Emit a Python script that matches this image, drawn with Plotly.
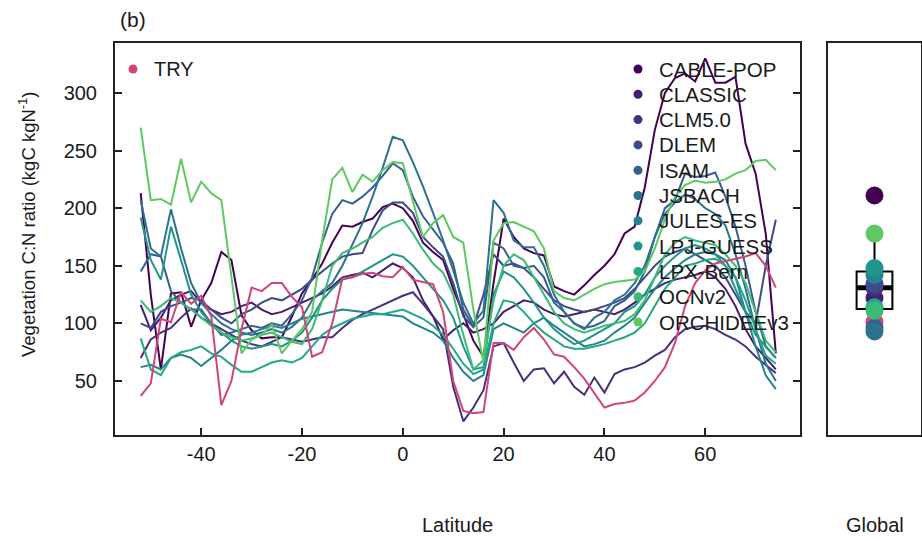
import numpy as np
import plotly.graph_objects as go

# ---------------- data ----------------
LAT = list(range(-52, 75, 2))  # 64 latitude bands

MODELS = ["CABLE-POP", "CLASSIC", "CLM5.0", "DLEM", "ISAM", "JSBACH",
          "JULES-ES", "LPJ-GUESS", "LPX-Bern", "OCNv2", "ORCHIDEEv3"]
COLORS = ["#440154", "#481C6E", "#46307E", "#3E4A89", "#355F8D", "#2C718E",
          "#26828E", "#1F968B", "#22A884", "#3BBB75", "#5EC962"]
TRY_NAME = "TRY"
TRY_COLOR = "#D1457A"

TRY = [37, 48, 104, 101, 127, 117, 124, 106, 29, 50, 95, 131, 128, 135, 135, 123, 114, 71, 75, 100,
       139, 140, 143, 144, 141, 140,
       149, 138, 136, 134, 110, 50, 24, 22, 23, 83, 83, 77, 88, 96, 86, 73, 71, 62, 52, 40,
       27, 30, 31, 33, 40, 50, 62, 83, 115, 135, 146, 152, 154, 156, 158, 161, 150, 131]

CABLE_POP = [213, 125, 60, 126, 127, 97, 120, 135, 162, 155, 107, 94, 87, 88, 88, 106, 126, 138, 152, 170,
             185, 184, 188, 191, 201, 204,
             200, 189, 170, 162, 155, 130, 108, 85, 71, 135, 191, 175, 165, 161, 159, 132, 128, 125, 133, 142,
             150, 160, 178, 184, 218, 268, 300, 313, 317, 310, 330, 309, 309, 314, 256, 230, 178, 74]

CLASSIC = [116, 94, 105, 120, 125, 128, 118, 112, 108, 110, 115, 118, 112, 108, 110, 114, 118, 122, 126, 132,
           140, 142, 144, 140, 146, 152,
           148, 140, 120, 106, 86, 94, 100, 92, 95, 100, 110, 115, 120, 118, 112, 108, 106, 108, 110, 112,
           110, 108, 112, 118, 125, 130, 135, 138, 140, 142, 145, 140, 130, 115, 95, 80, 70, 60]

CLM50 = [70, 86, 92, 96, 105, 113, 105, 100, 95, 90, 85, 82, 80, 84, 88, 86, 84, 86, 88, 88,
         96, 103, 108, 112, 116, 120,
         124, 127, 117, 106, 95, 45, 15, 27, 42, 80, 83, 66, 50, 60, 61, 48, 58, 45, 38, 53,
         40, 56, 60, 62, 66, 72, 77, 88, 95, 97, 98, 95, 90, 86, 80, 71, 64, 57]

DLEM = [100, 96, 110, 115, 118, 122, 120, 112, 105, 100, 108, 112, 118, 122, 120, 125, 130, 138, 145, 152,
        158, 160, 161, 181, 198, 205,
        205, 196, 175, 166, 158, 135, 106, 97, 125, 160, 150, 152, 148, 140, 130, 120, 115, 112, 110, 112,
        115, 118, 122, 130, 140, 150, 158, 162, 165, 160, 155, 150, 140, 125, 110, 100, 150, 190]

ISAM = [145, 160, 158, 128, 118, 112, 112, 100, 90, 92, 95, 98, 96, 100, 98, 108, 120, 140, 170, 195,
        207, 204, 210, 218, 228, 239,
        233, 210, 193, 182, 170, 152, 112, 97, 105, 170, 165, 150, 148, 150, 140, 118, 110, 100, 96, 98,
        102, 115, 120, 128, 145, 175, 200, 207, 230, 227, 228, 231, 210, 184, 150, 110, 80, 70]

JSBACH = [207, 165, 158, 199, 165, 135, 118, 108, 100, 95, 92, 90, 92, 95, 92, 97, 105, 120, 128, 135,
          150, 168, 187, 210, 235, 262,
          259, 240, 219, 196, 172, 146, 118, 100, 111, 207, 196, 172, 166, 166, 150, 125, 110, 100, 95, 105,
          110, 120, 125, 135, 150, 175, 195, 205, 212, 208, 200, 195, 185, 160, 130, 95, 65, 50]

JULES_ES = [62, 64, 60, 70, 73, 70, 63, 70, 77, 85, 90, 92, 95, 98, 96, 100, 104, 106, 108, 110,
            112, 111, 110, 109, 108, 107,
            106, 100, 96, 92, 85, 70, 58, 50, 55, 95, 100, 96, 92, 100, 105, 98, 92, 86, 80, 82,
            85, 92, 98, 105, 118, 130, 140, 148, 155, 160, 162, 160, 155, 140, 110, 80, 55, 43]

LPJ_GUESS = [192, 155, 138, 184, 155, 125, 110, 100, 92, 85, 80, 78, 80, 82, 80, 85, 92, 105, 120, 130,
             138, 140, 145, 150, 155, 160,
             158, 150, 140, 130, 120, 105, 80, 60, 62, 125, 145, 140, 130, 118, 105, 95, 88, 82, 85, 90,
             95, 100, 110, 115, 125, 140, 150, 158, 165, 168, 165, 160, 150, 130, 110, 90, 80, 70]

LPX_BERN = [87, 60, 55, 70, 75, 77, 80, 74, 71, 64, 58, 58, 62, 66, 68, 66, 70, 80, 90, 96,
            100, 104, 106, 108, 108, 110,
            112, 108, 104, 98, 90, 78, 65, 56, 60, 100, 120, 118, 110, 100, 92, 86, 80, 78, 78, 80,
            82, 85, 88, 92, 100, 115, 130, 140, 150, 152, 155, 156, 150, 140, 120, 95, 72, 65]

OCNV2 = [120, 110, 115, 122, 118, 112, 105, 98, 92, 88, 85, 87, 90, 92, 88, 84, 82, 95, 120, 150,
         161, 165, 170, 175, 183, 187,
         190, 178, 164, 152, 144, 125, 90, 60, 68, 120, 150, 160, 155, 140, 125, 110, 100, 95, 92, 95,
         98, 100, 102, 108, 120, 140, 160, 170, 175, 172, 170, 168, 160, 150, 135, 110, 85, 75]

ORCHIDEE = [270, 207, 208, 203, 243, 205, 223, 213, 207, 140, 74, 86, 90, 99, 74, 85, 95, 110, 172, 225,
            235, 214, 229, 223, 233, 240,
            239, 206, 175, 187, 194, 175, 170, 112, 66, 172, 187, 188, 184, 180, 165, 128, 122, 120, 125, 130,
            134, 136, 137, 138, 145, 165, 190, 210, 220, 224, 222, 223, 225, 230, 233, 241, 242, 233]

SERIES = [CABLE_POP, CLASSIC, CLM50, DLEM, ISAM, JSBACH, JULES_ES, LPJ_GUESS,
          LPX_BERN, OCNV2, ORCHIDEE]

# Global values (one per model) and TRY global
GLOBAL_MODELS = [211, 122, 131, 134, 96, 93, 142, 148, 114, 111, 178]
GLOBAL_TRY = 101

Y_TICKS = [50, 100, 150, 200, 250, 300]
X_TICKS = [-40, -20, 0, 20, 40, 60]
X_TICK_LABELS = ["-40", "-20", "0", "20", "40", "60"]

for s in SERIES + [TRY]:
    assert len(s) == len(LAT)

# ---------------- layout constants ----------------
W, H = 922, 541
PX_L, PX_R, PX_T, PX_B = 115, 800, 43, 435
G_L, G_R = 828, 921
XDOM = [PX_L / W, PX_R / W]
YDOM = [1 - PX_B / H, 1 - PX_T / H]
XRANGE = [-57.1, 78.8]
YRANGE = [3.1, 343.4]
BOX_W = 0.77
FONT = "Liberation Sans, Arial, sans-serif"
TXT = "#1a1a1a"

# legend placement on an invisible overlay axis (fraction of panel width, row index)
LEG_TRY_MX, LEG_TRY_TX = (133 - PX_L) / (PX_R - PX_L), (152 - PX_L) / (PX_R - PX_L)
LEG_MOD_MX, LEG_MOD_TX = (638 - PX_L) / (PX_R - PX_L), (657 - PX_L) / (PX_R - PX_L)
ROW0_PX, ROW_STEP = 69, 25.3
LEG_YRANGE = [(PX_B - ROW0_PX) / ROW_STEP, -(ROW0_PX - PX_T) / ROW_STEP]

fig = go.Figure()

# latitude profiles
for name, color, vals in zip(MODELS, COLORS, SERIES):
    fig.add_trace(go.Scatter(x=LAT, y=vals, mode="lines", name=name,
                             line=dict(color=color, width=2), xaxis="x", yaxis="y",
                             showlegend=False))
fig.add_trace(go.Scatter(x=LAT, y=TRY, mode="lines", name=TRY_NAME,
                         line=dict(color=TRY_COLOR, width=2), xaxis="x", yaxis="y",
                         showlegend=False))

# global boxplot (Tukey-style fences computed from model values)
gv = np.array(GLOBAL_MODELS, dtype=float)
q1, med, q3 = np.percentile(gv, [25, 50, 75])
iqr = q3 - q1
upper = gv[gv <= q3 + 1.5 * iqr].max()
lower = gv[gv >= q1 - 1.5 * iqr].min()
fig.add_trace(go.Box(x=[0], q1=[q1], median=[med], q3=[q3], lowerfence=[lower],
                     upperfence=[upper], width=BOX_W, whiskerwidth=0,
                     line=dict(color="black", width=2), fillcolor="rgba(255,255,255,0)",
                     xaxis="x2", yaxis="y2", showlegend=False, hoverinfo="skip"))
fig.add_trace(go.Scatter(x=[-BOX_W / 2, BOX_W / 2], y=[med, med], mode="lines",
                         line=dict(color="black", width=5), xaxis="x2", yaxis="y2",
                         showlegend=False, hoverinfo="skip"))
fig.add_trace(go.Scatter(x=[0] * (len(MODELS) + 1), y=[GLOBAL_TRY] + GLOBAL_MODELS,
                         mode="markers",
                         marker=dict(size=18, color=[TRY_COLOR] + COLORS, line=dict(width=0)),
                         xaxis="x2", yaxis="y2", showlegend=False))

# legends (markers on overlay axis, labels as annotations)
fig.add_trace(go.Scatter(x=[LEG_TRY_MX], y=[0], mode="markers",
                         marker=dict(size=9, color=TRY_COLOR), xaxis="x3", yaxis="y3",
                         showlegend=False, hoverinfo="skip"))
fig.add_trace(go.Scatter(x=[LEG_MOD_MX] * len(MODELS), y=list(range(len(MODELS))), mode="markers",
                         marker=dict(size=9, color=COLORS), xaxis="x3", yaxis="y3",
                         showlegend=False, hoverinfo="skip"))

annotations = [
    dict(text=TRY_NAME, x=LEG_TRY_TX, y=0, xref="x3", yref="y3", xanchor="left",
         yanchor="middle", showarrow=False, font=dict(size=20, color=TXT, family=FONT)),
]
for i, name in enumerate(MODELS):
    annotations.append(dict(text=name, x=LEG_MOD_TX, y=i, xref="x3", yref="y3", xanchor="left",
                            yanchor="middle", showarrow=False,
                            font=dict(size=20.5, color=TXT, family=FONT)))
annotations += [
    dict(text="(b)", x=118 / W, y=1 - 19 / H, xref="paper", yref="paper", xanchor="left",
         yanchor="middle", showarrow=False, font=dict(size=21, color=TXT, family=FONT)),
    dict(text="Latitude", x=(PX_L + PX_R) / 2 / W, y=1 - 525 / H, xref="paper", yref="paper",
         xanchor="center", yanchor="middle", showarrow=False,
         font=dict(size=20, color=TXT, family=FONT)),
    dict(text="Global", x=(G_L + G_R) / 2 / W, y=1 - 525 / H, xref="paper", yref="paper",
         xanchor="center", yanchor="middle", showarrow=False,
         font=dict(size=20, color=TXT, family=FONT)),
    dict(text="Vegetation C:N ratio (kgC kgN<sup>-1</sup>)", x=27 / W, y=1 - 224 / H,
         xref="paper", yref="paper", xanchor="center", yanchor="middle", textangle=-90,
         showarrow=False, font=dict(size=18.5, color=TXT, family=FONT)),
]

axis_line = dict(showline=True, linecolor="#222", linewidth=2, showgrid=False,
                 zeroline=False, fixedrange=True)

fig.update_layout(
    width=W, height=H, margin=dict(l=0, r=0, t=0, b=0),
    paper_bgcolor="white", plot_bgcolor="white", showlegend=False,
    font=dict(family=FONT, color=TXT),
    xaxis=dict(domain=XDOM, range=XRANGE, tickvals=X_TICKS, ticktext=X_TICK_LABELS,
               ticks="inside", ticklen=7,
               tickwidth=1.5, tickcolor="#222", mirror=True, anchor="y",
               tickfont=dict(size=20, color=TXT), **axis_line),
    yaxis=dict(domain=YDOM, range=YRANGE, tickvals=Y_TICKS, ticks="inside", ticklen=7,
               tickwidth=1.5, tickcolor="#222", mirror="ticks", anchor="x",
               ticklabelstandoff=12, tickfont=dict(size=20, color=TXT), **axis_line),
    xaxis2=dict(domain=[G_L / W, G_R / W], range=[-1, 1], showticklabels=False, ticks="",
                mirror=True, anchor="y2", **axis_line),
    yaxis2=dict(domain=YDOM, range=YRANGE, showticklabels=False, ticks="", mirror=True,
                anchor="x2", **axis_line),
    xaxis3=dict(domain=XDOM, range=[0, 1], visible=False, anchor="y3", overlaying="x",
                fixedrange=True),
    yaxis3=dict(domain=YDOM, range=LEG_YRANGE, visible=False, anchor="x3", overlaying="y",
                fixedrange=True),
    annotations=annotations,
)

fig.write_html("out.html", config={"displayModeBar": False},
               post_script="document.body.style.margin='0';document.body.style.padding='0';")
